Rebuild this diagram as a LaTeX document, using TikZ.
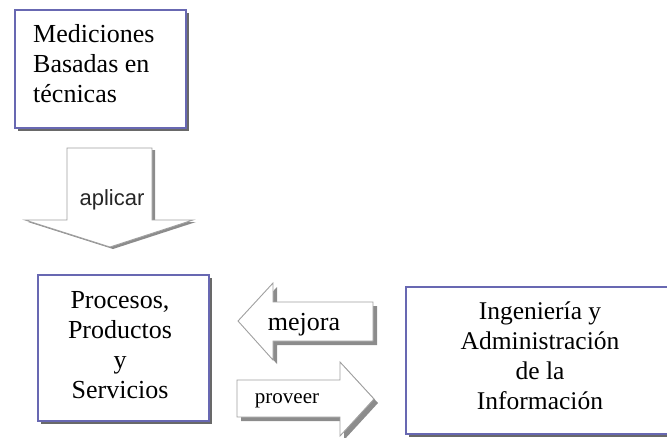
\documentclass[tikz,border=0pt]{standalone}
\usepackage{fontspec}
\setmainfont{Liberation Serif}
\newfontfamily\arrowsans{Liberation Sans}
\definecolor{boxblue}{RGB}{104,104,178}
\definecolor{shadowgray}{RGB}{105,105,105}
\definecolor{arrowline}{RGB}{160,160,160}
\definecolor{arrowshade}{RGB}{140,140,140}
\begin{document}
\begin{tikzpicture}[x=1pt,y=-1pt,
  box/.style={draw=boxblue, line width=1.6pt, fill=white, inner sep=0pt, anchor=north west},
  boxshadow/.style={fill=shadowgray},
  blockarrow/.style={draw=arrowline, line width=0.9pt, fill=white, line join=miter},
  arrowshadow/.style={fill=arrowshade},
  boxtext/.style={font=\fontsize{26}{30}\selectfont, align=center, inner sep=0pt, anchor=north},
  arrowtext/.style={inner sep=0pt, anchor=base}
]
\useasboundingbox (0,0) rectangle (667,437);
\clip (0,0) rectangle (667,437);

% box 1
\fill[boxshadow] (18,13) rectangle (189,131);
\node[box, minimum width=171pt, minimum height=118pt] (b1) at (14,9) {};
\node[boxtext, align=left, anchor=north west] (t1) at (33,24) {Mediciones\\Basadas en\\técnicas};

% aplicar arrow
\fill[arrowshadow, shift={(3,2)}] (67,148) -- (152,148) -- (152,220) -- (193,220) -- (110,247) -- (25,220) -- (67,220) -- cycle;
\path[blockarrow] (67,148) -- (152,148) -- (152,220) -- (193,220) -- (110,247) -- (25,220) -- (67,220) -- cycle;
\node[arrowtext, font=\arrowsans\fontsize{22}{26}\selectfont, text=black!85] (apl) at (112,205) {aplicar};

% box 2
\fill[boxshadow] (41,278) rectangle (212,424);
\node[box, minimum width=171pt, minimum height=146pt] (b2) at (37,274) {};
\node[boxtext] (t2) at (120,291) {Procesos,\\Productos\\y\\Servicios};

% mejora arrow
\fill[arrowshadow, shift={(4,4)}] (238,321) -- (273,283) -- (273,302) -- (373,302) -- (373,341) -- (273,341) -- (273,360) -- cycle;
\path[blockarrow] (238,321) -- (273,283) -- (273,302) -- (373,302) -- (373,341) -- (273,341) -- (273,360) -- cycle;
\node[arrowtext, font=\fontsize{26}{30}\selectfont] (mej) at (304,330) {mejora};

% proveer arrow
\fill[arrowshadow, shift={(4,4)}] (237,380) -- (340,380) -- (340,362) -- (374,399) -- (340,436) -- (340,417) -- (237,417) -- cycle;
\path[blockarrow] (237,380) -- (340,380) -- (340,362) -- (374,399) -- (340,436) -- (340,417) -- (237,417) -- cycle;
\node[arrowtext, font=\fontsize{21}{25}\selectfont] (prov) at (287,403) {proveer};

% box 3
\fill[boxshadow] (409,290) rectangle (680,437);
\node[box, minimum width=270pt, minimum height=147pt] (b3) at (405,286) {};
\node[boxtext, font=\fontsize{25.5}{30}\selectfont] (t3) at (540,302) {Ingeniería y\\Administración\\de la\\Información};
\end{tikzpicture}
\end{document}
